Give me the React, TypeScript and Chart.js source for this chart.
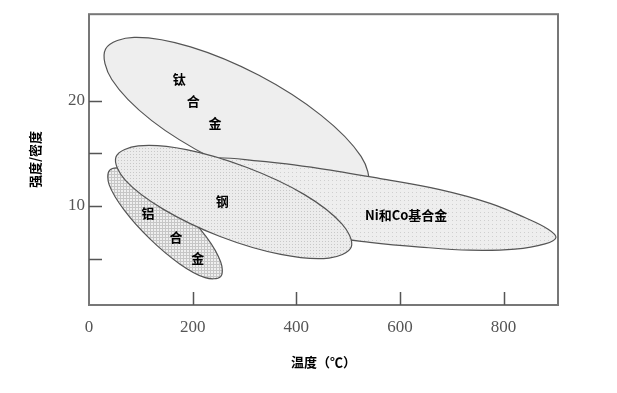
import { useEffect, useRef } from "react";
import { Chart, registerables } from "chart.js";

Chart.register(...registerables);

// Region outlines (temperature in °C, strength/density)
const tiTemp = [537, 482, 374, 242, 121, 44, 32, 87, 196, 328, 448, 525];
const tiStrength = [11.9, 10.7, 11.6, 14.4, 18.1, 22.0, 24.9, 26.0, 25.1, 22.4, 18.6, 14.7];

const steelTemp = [506, 463, 370, 253, 143, 70, 52, 95, 188, 305, 415, 488];
const steelStrength = [6.1, 5.05, 5.4, 7.1, 9.7, 12.45, 14.65, 15.7, 15.35, 13.65, 11.1, 8.3];

const alTemp = [254, 224, 175, 117, 68, 39, 40, 69, 119, 176, 226, 254];
const alStrength = [3.3, 3.2, 4.5, 6.9, 9.6, 12.0, 13.4, 13.5, 12.2, 9.8, 7.1, 4.7];

const niTemp = [185, 224, 330, 446, 562, 677, 774, 841, 886, 901, 880, 822, 735, 639, 542, 446, 330, 234];
const niStrength = [13.2, 14.5, 14.25, 13.55, 12.6, 11.55, 10.25, 8.9, 7.8, 7.0, 6.4, 5.9, 5.8, 6.1, 6.55, 7.2, 8.6, 11.0];

// In-figure labels
const regionLabels = ["钛", "合", "金", "钢", "铝", "合", "金", "Ni和Co基合金"];
const labelTemp = [174, 201, 243, 257, 114, 168, 210, 612];
const labelStrength = [22.05, 20.0, 17.9, 10.45, 9.3, 7.05, 5.05, 9.1];

// Axes
const xTickValues = [0, 200, 400, 600, 800];
const yTickValues = [10, 20];
const xTickMarks = [200, 400, 600, 800];
const yTickMarks = [5, 10, 15, 20];
const xAxisTitle = "温度（℃）";
const yAxisTitle = "强度/密度";

const SERIF = "'Liberation Serif', 'Times New Roman', serif";
const CJK = "'Noto Sans CJK SC', sans-serif";

export default function App() {
  const ref = useRef<HTMLCanvasElement>(null);

  useEffect(() => {
    const canvas = ref.current!;
    const mainCtx = canvas.getContext("2d")!;
    const mk = (size: number, bg: string, draw: (g: CanvasRenderingContext2D) => void) => {
      const c = document.createElement("canvas");
      c.width = size;
      c.height = size;
      const g = c.getContext("2d")!;
      g.fillStyle = bg;
      g.fillRect(0, 0, size, size);
      draw(g);
      return mainCtx.createPattern(c, "repeat")!;
    };
    const steelFill = mk(3, "#ececec", (g) => {
      g.fillStyle = "#c8c8c8";
      g.fillRect(1, 1, 1, 1);
    });
    const alFill = mk(3, "#efefef", (g) => {
      g.fillStyle = "#c6c6c6";
      g.fillRect(0, 0, 3, 1);
      g.fillRect(0, 0, 1, 3);
    });
    const niFill = mk(4, "#eeeeee", (g) => {
      g.fillStyle = "#cfcfcf";
      g.fillRect(0, 0, 1, 1);
    });
    const tiFill = "#eeeeee";

    const outline = (t: number[], s: number[]) => t.map((x, i) => ({ x, y: s[i] }));
    const ds = (label: string, t: number[], s: number[], bg: any) => ({
      label,
      data: outline(t, s),
      showLine: true,
      tension: 0.36,
      fill: "shape",
      backgroundColor: bg,
      borderColor: "#555",
      borderWidth: 1.2,
      pointRadius: 0,
      pointHoverRadius: 0,
    });

    // close each outline as a smooth loop (as the radar controller does)
    const closedLoops = {
      id: "closedLoops",
      afterDatasetUpdate(_chart: any, args: any) {
        const line = args.meta.dataset;
        if (line) {
          line._loop = true;
          line._fullLoop = true;
        }
      },
    };

    const overlay = {
      id: "overlay",
      afterDatasetsDraw(chart: any) {
        const { ctx, scales } = chart;
        ctx.save();
        ctx.fillStyle = "#000";
        ctx.textAlign = "center";
        ctx.textBaseline = "middle";
        ctx.font = `bold 13px ${CJK}`;
        regionLabels.forEach((txt, i) => {
          ctx.fillText(txt, scales.x.getPixelForValue(labelTemp[i]), scales.y.getPixelForValue(labelStrength[i]));
        });
        ctx.restore();
      },
      afterDraw(chart: any) {
        const { ctx, chartArea: a, scales } = chart;
        ctx.save();
        ctx.strokeStyle = "#777";
        ctx.lineWidth = 2;
        ctx.strokeRect(a.left, a.top, a.right - a.left, a.bottom - a.top);
        ctx.strokeStyle = "#555";
        ctx.lineWidth = 1.5;
        ctx.beginPath();
        xTickMarks.forEach((v) => {
          const px = Math.round(scales.x.getPixelForValue(v)) + 0.5;
          ctx.moveTo(px, a.bottom);
          ctx.lineTo(px, a.bottom - 13);
        });
        yTickMarks.forEach((v) => {
          const py = Math.round(scales.y.getPixelForValue(v)) + 0.5;
          ctx.moveTo(a.left, py);
          ctx.lineTo(a.left + 13, py);
        });
        ctx.stroke();
        ctx.restore();
      },
    };

    const chart = new Chart(canvas, {
      type: "scatter",
      data: {
        datasets: [
          ds("钢", steelTemp, steelStrength, steelFill),
          ds("铝合金", alTemp, alStrength, alFill),
          ds("Ni和Co基合金", niTemp, niStrength, niFill),
          ds("钛合金", tiTemp, tiStrength, tiFill),
        ] as any,
      },
      options: {
        responsive: false,
        animation: false,
        events: [],
        layout: { padding: { left: 0, top: 13, right: 59, bottom: 0 } },
        plugins: {
          legend: { display: false },
          tooltip: { enabled: false },
        },
        scales: {
          x: {
            type: "linear",
            min: 0,
            max: 905,
            position: "bottom",
            grid: { display: false, drawTicks: false },
            border: { display: false },
            afterBuildTicks: (s: any) => {
              s.ticks = xTickValues.map((v) => ({ value: v }));
            },
            afterFit: (s: any) => {
              s.height = 88;
            },
            ticks: {
              padding: 12,
              autoSkip: false,
              maxRotation: 0,
              color: "#555",
              font: { family: SERIF, size: 17 },
            },
            title: {
              display: true,
              text: xAxisTitle,
              color: "#000",
              font: { family: CJK, size: 13, weight: "bold" },
              padding: { top: 0, bottom: 23 },
            },
          },
          y: {
            type: "linear",
            min: 0.6,
            max: 28.2,
            position: "left",
            grid: { display: false, drawTicks: false },
            border: { display: false },
            afterBuildTicks: (s: any) => {
              s.ticks = yTickValues.map((v) => ({ value: v }));
            },
            afterFit: (s: any) => {
              s.width = 89;
            },
            ticks: {
              padding: 4,
              autoSkip: false,
              color: "#555",
              font: { family: SERIF, size: 17 },
            },
            title: {
              display: true,
              text: yAxisTitle,
              color: "#000",
              font: { family: CJK, size: 13, weight: "bold" },
              padding: { top: 27, bottom: 0 },
            },
          },
        },
      } as any,
      plugins: [closedLoops, overlay],
    });
    return () => chart.destroy();
  }, []);

  return (
    <div style={{ position: "fixed", left: 0, top: 0, width: 617, height: 393, background: "#fff" }}>
      <canvas ref={ref} width={617} height={393} style={{ width: 617, height: 393, display: "block" }} />
    </div>
  );
}
